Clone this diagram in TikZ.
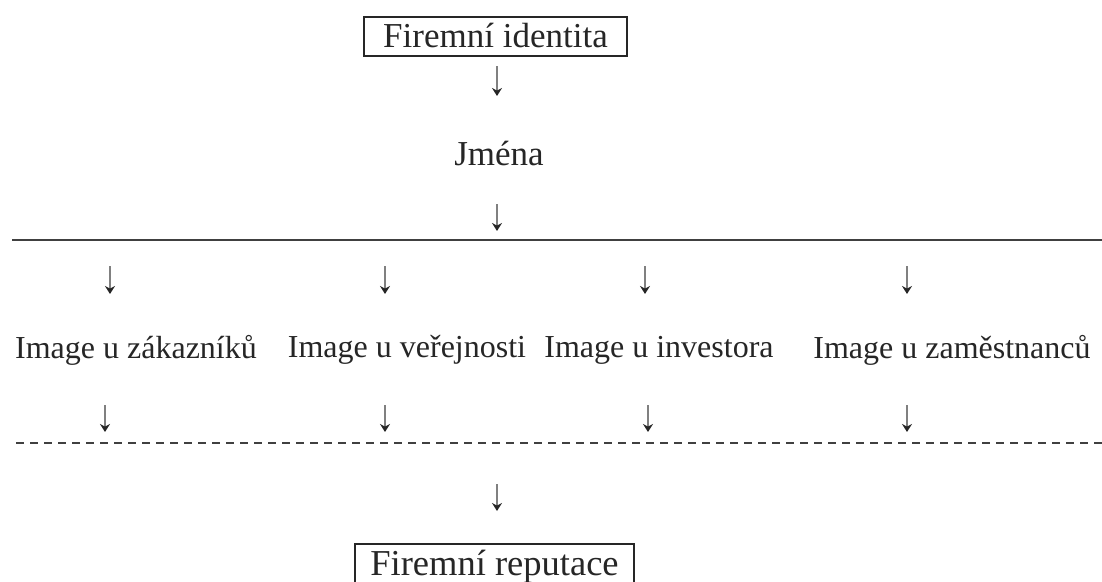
\documentclass[tikz,border=0pt]{standalone}
\usepackage{fontspec}
\setmainfont{Liberation Serif}
\usetikzlibrary{arrows.meta}
\begin{document}
\begin{tikzpicture}[x=1pt,y=-1pt,
  txt/.style={inner sep=0pt, font=\fontsize{32}{38}\selectfont, text=black!85},
  bigtxt/.style={inner sep=0pt, font=\fontsize{35}{42}\selectfont, text=black!85},
  boxed/.style={draw=black!85, line width=1.8pt, inner xsep=19pt, inner ysep=1pt, text height=29pt, text depth=8pt, text=black!85, anchor=base},
  darr/.style={draw=black!50, line width=2pt, -{Stealth[length=8pt,width=10pt,black!85]}},
  rule/.style={draw=black!75, line width=1.8pt}]
\useasboundingbox (0,0) rectangle (1102,581);
% nodes
\node[boxed, font=\fontsize{35}{42}\selectfont] (fi) at (495.5,47) {Firemní identita};
\node[bigtxt] (jm) at (499,153) {Jména};
\node[txt] (i1) at (136,350) {Image u zákazníků};
\node[txt] (i2) at (407,350) {Image u veřejnosti};
\node[txt] (i3) at (659,350) {Image u investora};
\node[txt] (i4) at (952,350) {Image u zaměstnanců};
\node[boxed, font=\fontsize{36.5}{44}\selectfont, inner xsep=15pt, text height=30pt] (fr) at (494.5,575) {Firemní reputace};
% rules
\coordinate (sl) at (12,240); \coordinate (sr) at (1102,240);
\coordinate (dl) at (16,443); \coordinate (dr) at (1102,443);
\draw[rule] (sl) -- (sr);
\draw[rule, dash pattern=on 8pt off 6pt] (dl) -- (dr);
% arrows
\coordinate (a1s) at (497,66); \coordinate (a1e) at (497,96);
\coordinate (a2s) at (497,204); \coordinate (a2e) at (497,231);
\draw[darr] (a1s) -- (a1e);
\draw[darr] (a2s) -- (a2e);
\foreach \x [count=\i] in {110,385,645,907}{
  \coordinate (u\i s) at (\x,266); \coordinate (u\i e) at (\x,294);
  \draw[darr] (u\i s) -- (u\i e);
}
\foreach \x [count=\i] in {105,385,648,907}{
  \coordinate (l\i s) at (\x,405); \coordinate (l\i e) at (\x,432);
  \draw[darr] (l\i s) -- (l\i e);
}
\coordinate (a3s) at (497,484); \coordinate (a3e) at (497,511);
\draw[darr] (a3s) -- (a3e);
\end{tikzpicture}
\end{document}
